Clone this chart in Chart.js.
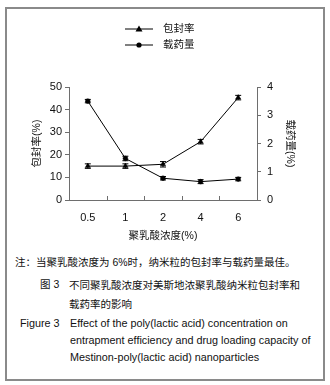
<!DOCTYPE html>
<html>
<head>
<meta charset="utf-8">
<script src="https://cdn.jsdelivr.net/npm/chart.js@4"></script>
<style>
  body { margin: 0; background: #fff; }
  #wrap { position: relative; width: 330px; height: 385px; overflow: hidden; }
  #frame { position: absolute; left: 5px; top: 7px; width: 316px; height: 370px; border: 2px solid #8a8a8a; }
  #chartBox { position: absolute; left: 0; top: 0; width: 330px; height: 250px; }
  .t { position: absolute; font-family: "Liberation Sans", "Noto Sans CJK SC", sans-serif; color: #111; white-space: nowrap; }
  .cn { font-size: 10.5px; }
  .en { font-size: 10.8px; line-height: 17px; }
</style>
</head>
<body>
<div id="wrap">
  <div id="frame"></div>
  <div id="chartBox"><canvas id="c" width="330" height="250"></canvas></div>
  <div class="t cn" style="left:15px; top:254px;">注：当聚乳酸浓度为 6%时，纳米粒的包封率与载药量最佳。</div>
  <div class="t cn" style="left:40px; top:276px;">图 3</div>
  <div class="t cn" style="left:69px; top:276px; line-height:19px;">不同聚乳酸浓度对美斯地浓聚乳酸纳米粒包封率和<br>载药率的影响</div>
  <div class="t en" style="left:20px; top:315px;">Figure 3</div>
  <div class="t en" style="left:70px; top:315px;">Effect of the poly(lactic acid) concentration on<br>entrapment efficiency and drug loading capacity of<br>Mestinon-poly(lactic acid) nanoparticles</div>
</div>
<script>
const categories = ['0.5', '1', '2', '4', '6'];
const encapsulation = [15.0, 15.0, 15.8, 25.8, 45.3];   // 包封率 (%)
const encapsulationErr = [1.0, 1.0, 1.2, 1.0, 1.0];
const drugLoading = [3.5, 1.47, 0.77, 0.65, 0.74];       // 载药量 (%)
const drugLoadingErr = [0.06, 0.08, 0.06, 0.07, 0.06];
const leftTicks = [0, 10, 20, 30, 40, 50];
const rightTicks = [0, 1, 2, 3, 4];

const FONT = '"Liberation Sans", "Noto Sans CJK SC", sans-serif';
const AXIS = '#6e6e6e';

// error bars + inward x ticks + legend with line and marker
const extras = {
  id: 'extras',
  afterDatasetsDraw(chart) {
    const ctx = chart.ctx;
    const errs = [encapsulationErr, drugLoadingErr];
    ctx.save();
    ctx.strokeStyle = '#000';
    ctx.lineWidth = 1;
    chart.data.datasets.forEach((ds, di) => {
      const ys = chart.scales[ds.yAxisID];
      ds.data.forEach((v, i) => {
        const x = chart.scales.x.getPixelForValue(i);
        const y1 = ys.getPixelForValue(v - errs[di][i]);
        const y2 = ys.getPixelForValue(v + errs[di][i]);
        ctx.beginPath();
        ctx.moveTo(x, y1); ctx.lineTo(x, y2);
        ctx.moveTo(x - 3, y1); ctx.lineTo(x + 3, y1);
        ctx.moveTo(x - 3, y2); ctx.lineTo(x + 3, y2);
        ctx.stroke();
      });
    });
    ctx.restore();
  },
  afterDraw(chart) {
    const ctx = chart.ctx;
    const xs = chart.scales.x;
    const bottom = chart.chartArea.bottom;
    ctx.save();
    ctx.strokeStyle = AXIS;
    ctx.lineWidth = 1;
    for (let i = 0; i < categories.length - 1; i++) {
      const x = Math.round((xs.getPixelForValue(i) + xs.getPixelForValue(i + 1)) / 2) + 0.5;
      ctx.beginPath();
      ctx.moveTo(x, bottom);
      ctx.lineTo(x, bottom - 4);
      ctx.stroke();
    }
    // legend
    chart.data.datasets.forEach((ds, i) => {
      const y = 29 + i * 16;
      ctx.strokeStyle = '#000';
      ctx.beginPath();
      ctx.moveTo(125, y); ctx.lineTo(153, y);
      ctx.stroke();
      ctx.fillStyle = '#000';
      ctx.beginPath();
      if (ds.pointStyle === 'triangle') {
        ctx.moveTo(139, y - 3.5); ctx.lineTo(142.5, y + 2.5); ctx.lineTo(135.5, y + 2.5);
      } else {
        ctx.arc(139, y, 2.6, 0, Math.PI * 2);
      }
      ctx.fill();
      ctx.font = '10.5px ' + FONT;
      ctx.textBaseline = 'middle';
      ctx.fillStyle = '#111';
      ctx.fillText(ds.label, 163, y);
    });
    ctx.restore();
  }
};

new Chart(document.getElementById('c'), {
  type: 'line',
  data: {
    labels: categories,
    datasets: [
      {
        label: '包封率',
        data: encapsulation,
        yAxisID: 'y',
        borderColor: '#000',
        backgroundColor: '#000',
        borderWidth: 1,
        pointStyle: 'triangle',
        pointRadius: 3,
        pointBorderWidth: 0.5,
        tension: 0
      },
      {
        label: '载药量',
        data: drugLoading,
        yAxisID: 'y1',
        borderColor: '#000',
        backgroundColor: '#000',
        borderWidth: 1,
        pointStyle: 'circle',
        pointRadius: 2.4,
        pointBorderWidth: 0.5,
        tension: 0
      }
    ]
  },
  options: {
    responsive: false,
    animation: false,
    layout: { padding: { top: 87, left: 31, right: 34, bottom: 4 } },
    plugins: { legend: { display: false }, tooltip: { enabled: false } },
    scales: {
      x: {
        offset: true,
        grid: { display: false },
        border: { color: AXIS },
        ticks: { color: '#111', font: { family: FONT, size: 11 }, padding: 3 },
        title: { display: true, text: '聚乳酸浓度(%)', color: '#111', font: { family: FONT, size: 10.5 }, padding: { top: 2 } },
        afterFit: s => { s.height = 46; }
      },
      y: {
        position: 'left',
        min: 0, max: 50,
        afterBuildTicks: s => { s.ticks = leftTicks.map(v => ({ value: v })); },
        grid: { drawOnChartArea: false, tickLength: 4, color: AXIS },
        border: { color: AXIS },
        ticks: { color: '#111', font: { family: FONT, size: 11 }, padding: 3 },
        title: { display: true, text: '包封率(%)', color: '#111', font: { family: FONT, size: 10.5 }, padding: 0 },
        afterFit: s => { s.width = 38; }
      },
      y1: {
        position: 'right',
        min: 0, max: 4,
        afterBuildTicks: s => { s.ticks = rightTicks.map(v => ({ value: v })); },
        grid: { drawOnChartArea: false, tickLength: 4, color: AXIS },
        border: { color: AXIS },
        ticks: { color: '#111', font: { family: FONT, size: 11 }, padding: 6 },
        title: { display: true, text: '载药量(%)', color: '#111', font: { family: FONT, size: 10.5 }, padding: 0 },
        afterFit: s => { s.width = 39; }
      }
    }
  },
  plugins: [extras]
});
</script>
</body>
</html>
